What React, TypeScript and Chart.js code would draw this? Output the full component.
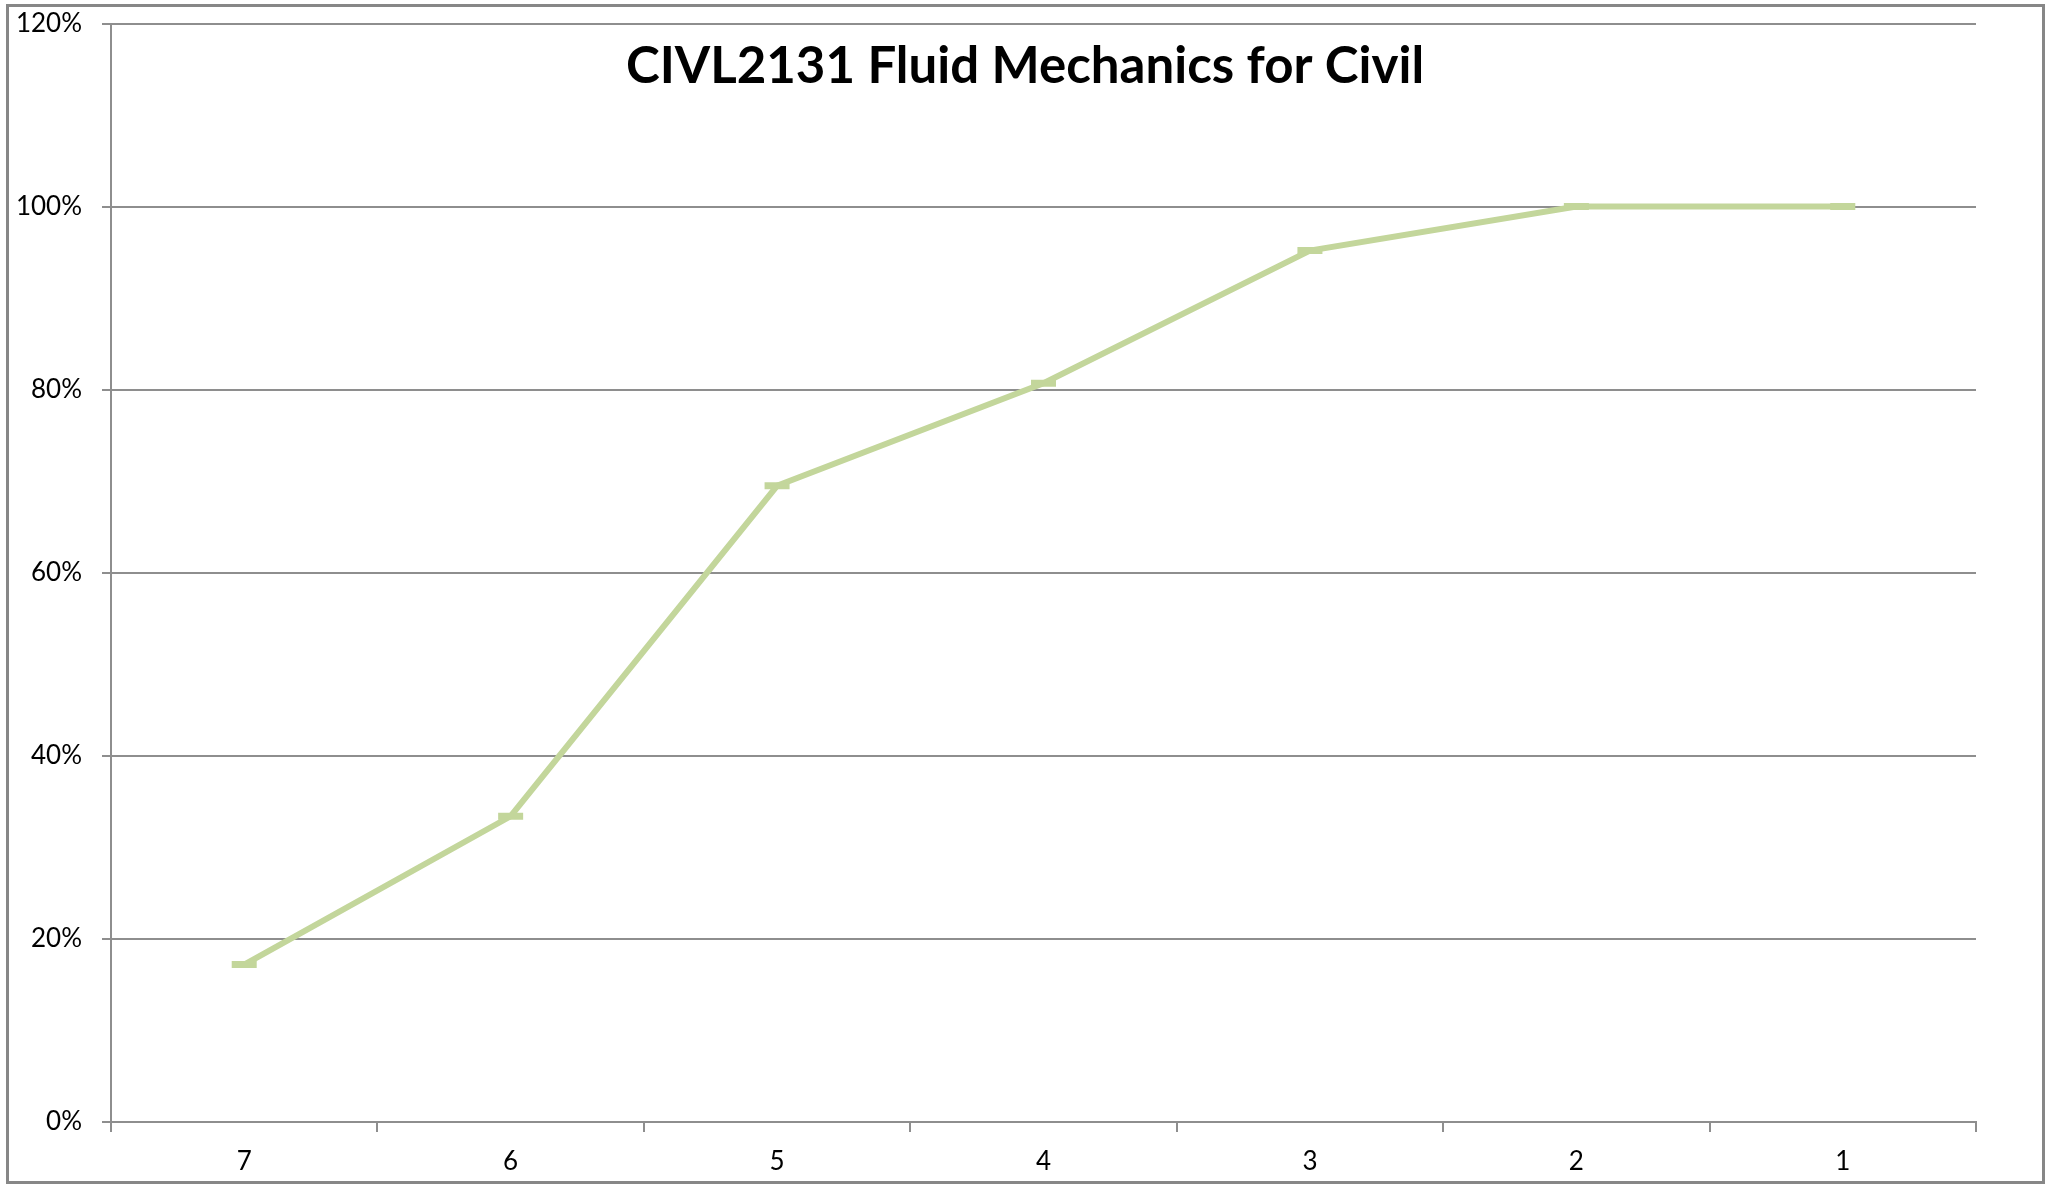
import React, { useEffect, useRef } from "react";
import { Chart, registerables } from "chart.js";

Chart.register(...registerables);

const TITLE = "CIVL2131 Fluid Mechanics for Civil";
const categories = ["7", "6", "5", "4", "3", "2", "1"];
const cumulativePercent = [17.2, 33.4, 69.5, 80.7, 95.2, 100, 100];
const yMax = 120;
const yStep = 20;

const LINE_COLOR = "rgb(195,214,155)";
const GRID_COLOR = "#8e8e8e";
const FONT = "Lato, 'DejaVu Sans', sans-serif";

const titlePlugin = {
  id: "excelTitle",
  afterDraw(chart: any) {
    const ctx = chart.ctx;
    ctx.save();
    ctx.font = `bold 51px ${FONT}`;
    ctx.fillStyle = "#000";
    ctx.textAlign = "center";
    ctx.textBaseline = "alphabetic";
    ctx.fillText(TITLE, 1025, 83);
    ctx.restore();
  },
};

export default function App() {
  const ref = useRef<HTMLCanvasElement | null>(null);

  useEffect(() => {
    if (!ref.current) return;
    const chart = new Chart(ref.current, {
      type: "line",
      data: {
        labels: categories,
        datasets: [
          {
            data: cumulativePercent,
            borderColor: LINE_COLOR,
            backgroundColor: LINE_COLOR,
            borderWidth: 6,
            pointStyle: "line",
            pointRadius: 12.5,
            pointBorderWidth: 7,
            pointBorderColor: LINE_COLOR,
            tension: 0,
          },
        ],
      },
      options: {
        responsive: false,
        animation: false,
        events: [],
        layout: { padding: { left: 10, right: 75, top: 23.5, bottom: 0 } },
        plugins: {
          legend: { display: false },
          title: { display: false },
          tooltip: { enabled: false },
        },
        scales: {
          x: {
            offset: true,
            grid: {
              display: true,
              drawOnChartArea: false,
              drawTicks: true,
              tickLength: 10,
              color: GRID_COLOR,
              lineWidth: 2,
              offset: true,
            },
            border: { display: true, color: GRID_COLOR, width: 2 },
            ticks: {
              color: "#000",
              font: { family: FONT, size: 26 },
              padding: 14,
              maxRotation: 0,
            },
            afterFit(scale: any) {
              scale.height = 62;
              scale.paddingLeft = 0;
              scale.paddingRight = 0;
            },
          },
          y: {
            min: 0,
            max: yMax,
            grid: {
              color: GRID_COLOR,
              lineWidth: 2,
              tickLength: 9,
            },
            border: { display: true, color: GRID_COLOR, width: 2 },
            ticks: {
              stepSize: yStep,
              color: "#000",
              font: { family: FONT, size: 26 },
              padding: 20,
              callback: (v: any) => `${v}%`,
            },
            afterFit(scale: any) {
              scale.width = 101;
              scale.paddingTop = 0;
              scale.paddingBottom = 0;
            },
          },
        },
      },
      plugins: [titlePlugin],
    });
    return () => chart.destroy();
  }, []);

  return (
    <div>
      <canvas
        ref={ref}
        width={2051}
        height={1184}
        style={{ position: "absolute", left: 0, top: 0, width: 2051, height: 1184 }}
      />
      <div
        style={{
          position: "absolute",
          left: 6,
          top: 4,
          width: 2033,
          height: 1174,
          border: "3px solid #878787",
          pointerEvents: "none",
        }}
      />
    </div>
  );
}
